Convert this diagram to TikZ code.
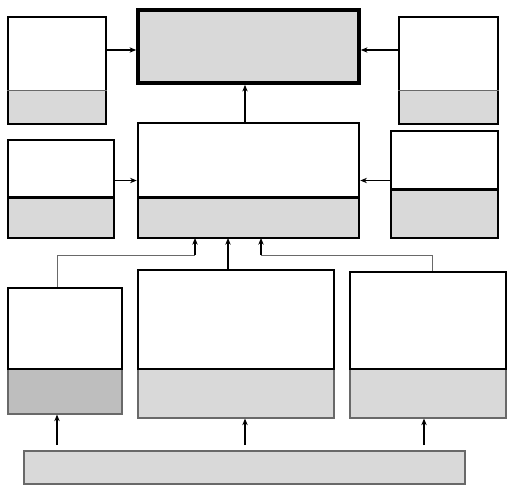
\documentclass[tikz,border=0pt]{standalone}
\usetikzlibrary{fit,arrows.meta}
\definecolor{panel}{RGB}{217,217,217}
\definecolor{paneldark}{RGB}{190,190,190}
\definecolor{rim}{RGB}{105,105,105}

\begin{document}
\begin{tikzpicture}[x=0.75pt,y=0.75pt,yscale=-1,
    outer/.style={draw=black,line width=1.9pt,inner sep=0pt},
    lower/.style={draw=rim,line width=0.8pt,fill=panel,inner sep=0pt},
    link/.style={-{Stealth[length=5pt,width=4pt]},line width=0.9pt},
    wire/.style={draw=rim,line width=0.7pt}]
  \useasboundingbox (0,0) rectangle (511,496);

  %Top row
  \node[outer,fill=panel,line width=2.7pt,fit={(138,10) (359,83)}] (core) {};
  \node[lower,draw=none,fit={(8,91) (106,124)}] (leftTopLow) {};
  \node[outer,fit={(8,17) (106,124)}] (leftTop) {};
  \draw[wire] (leftTopLow.north west) -- (leftTopLow.north east);
  \node[lower,draw=none,fit={(399,91) (498,124)}] (rightTopLow) {};
  \node[outer,fit={(399,17) (498,124)}] (rightTop) {};
  \draw[wire] (rightTopLow.north west) -- (rightTopLow.north east);

  %Middle row
  \node[lower,draw=none,fit={(138,198) (359,238)}] (hubLow) {};
  \node[outer,fit={(138,123) (359,238)}] (hub) {};
  \draw[line width=1.9pt] (hubLow.north west) -- (hubLow.north east);
  \node[lower,draw=none,fit={(8,198) (114,238)}] (leftMidLow) {};
  \node[outer,fit={(8,140) (114,238)}] (leftMid) {};
  \draw[line width=1.9pt] (leftMidLow.north west) -- (leftMidLow.north east);
  \node[lower,draw=none,fit={(391,190) (498,238)}] (rightMidLow) {};
  \node[outer,fit={(391,131) (498,238)}] (rightMid) {};
  \draw[line width=1.9pt] (rightMidLow.north west) -- (rightMidLow.north east);

  %Bottom row
  \node[lower,fill=paneldark,fit={(8,369) (122,414)}] (srcALow) {};
  \node[outer,fit={(8,288) (122,369)}] (srcA) {};
  \node[lower,fit={(138,369) (334,418)}] (srcBLow) {};
  \node[outer,fit={(138,270) (334,369)}] (srcB) {};
  \node[lower,fit={(350,369) (506,418)}] (srcCLow) {};
  \node[outer,fit={(350,272) (506,369)}] (srcC) {};
  \node[lower,fit={(24,451) (465,484)}] (base) {};

  %Tap points
  \coordinate (feedTop) at (0,50);
  \coordinate (rise) at (245,0);
  \coordinate (inA) at (195,238);
  \coordinate (inB) at (228,238);
  \coordinate (inC) at (261,238);
  \coordinate (tapA) at (57,0);
  \coordinate (tapB) at (245,0);
  \coordinate (tapC) at (424,0);
  \coordinate (tapCTop) at (432,0);
  \coordinate (bendA) at (195,255);
  \coordinate (bendC) at (261,255);

  %Arrows into the top box
  \draw[link] (leftTop.east |- feedTop) -- (core.west |- feedTop);
  \draw[link] (rightTop.west |- feedTop) -- (core.east |- feedTop);
  \draw[link] (rise |- hub.north) -- (rise |- core.south);

  %Arrows into the hub
  \draw[link] (leftMid.east |- hub.west) -- (hub.west);
  \draw[link] (rightMid.west |- hub.east) -- (hub.east);
  \draw[wire] (tapA |- srcA.north) |- (bendA);
  \draw[link] (bendA) -- (inA);
  \draw[link] (inB |- srcB.north) -- (inB);
  \draw[wire] (tapCTop |- srcC.north) |- (bendC);
  \draw[link] (bendC) -- (inC);

  %Arrows from the base
  \draw[link,shorten <=4] (tapA |- base.north) -- (tapA |- srcALow.south);
  \draw[link,shorten <=4] (tapB |- base.north) -- (tapB |- srcBLow.south);
  \draw[link,shorten <=4] (tapC |- base.north) -- (tapC |- srcCLow.south);
\end{tikzpicture}
\end{document}
